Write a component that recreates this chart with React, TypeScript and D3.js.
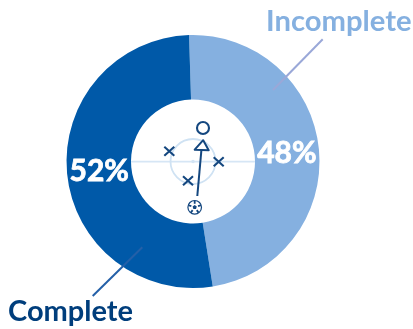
import React from "react";
import * as d3 from "d3";

const categories = ["Incomplete", "Complete"];
const values = [48, 52];
const percentLabels = ["48%", "52%"];
const sliceColors = ["#85b0e0", "#0059a8"];
const labelColors = ["#85b0e0", "#003e7c"];
const leaderColors = ["#9aa8d8", "#2460a8"];

// pitch icon positions, in px offset from the chart centre
const defenders: [number, number][] = [[-23.7, -10.2], [25.7, 0.2], [-5, 19.2]];
const receiver: [number, number] = [10, -33.5];
const passer: [number, number] = [1.7, 45.8];
const passEnd: [number, number] = [8.7, -14.8];
const passStart: [number, number] = [4.3, 34.5];

const cx = 193;
const cy = 161.5;
const outer = 126.5;
const inner = 62;
const startAngle = (-1.8 * Math.PI) / 180;
const navy = "#14477f";
const font = "Lato, 'Open Sans', sans-serif";

export default function App() {
  const pie = d3.pie<number>().sort(null).startAngle(startAngle).endAngle(startAngle + 2 * Math.PI);
  const arc = d3.arc<d3.PieArcDatum<number>>().innerRadius(inner).outerRadius(outer);
  const slices = pie(values);
  const centroids = slices.map((s) => arc.centroid(s));
  const triangle = d3.line()([[-7, 3], [7, 3.5], [1.5, -6.5]]) + "Z";
  const pent = d3.range(5).map((i) => {
    const a = (i * 2 * Math.PI) / 5 - Math.PI / 2;
    return [2.2 * Math.cos(a), 2.2 * Math.sin(a)] as [number, number];
  });
  return (
    <svg width={413} height={329} style={{ position: "fixed", left: 0, top: 0 }}>
      <g transform={`translate(${cx},${cy})`}>
        {slices.map((s, i) => (
          <path key={categories[i]} d={arc(s) ?? ""} fill={sliceColors[i]} />
        ))}
        <line x1={-inner} x2={inner} y1={0.2} y2={0.2} stroke="#d6e6f5" strokeWidth={1.8} />
        <circle r={22.5} fill="none" stroke="#cfe2f3" strokeWidth={1.8} />
        <circle r={1.8} fill="#d3e4f4" />
        {defenders.map(([x, y], i) => (
          <path key={i} transform={`translate(${x},${y})`} d="M-5-4.5L5 4.5M-5 4.5L5-4.5" stroke={navy} strokeWidth={2.1} fill="none" />
        ))}
        <circle cx={receiver[0]} cy={receiver[1]} r={6} fill="none" stroke={navy} strokeWidth={2.1} />
        <line x1={passStart[0]} y1={passStart[1]} x2={passEnd[0]} y2={passEnd[1]} stroke={navy} strokeWidth={2} />
        <path d={triangle} transform={`translate(${passEnd[0]},${passEnd[1]})`} fill="#fff" stroke={navy} strokeWidth={2} strokeLinejoin="round" />
        <g transform={`translate(${passer[0]},${passer[1]})`}>
          <circle r={6.8} fill="#fff" stroke={navy} strokeWidth={1.2} />
          <path d={d3.line()(pent) + "Z"} fill={navy} />
          {pent.map(([x, y], i) => (
            <line key={i} x1={x * 1.6} y1={y * 1.6} x2={x * 3} y2={y * 3} stroke={navy} strokeWidth={1.8} />
          ))}
        </g>
        {slices.map((s, i) => (
          <text key={i} x={centroids[i][0]} y={centroids[i][1]} dy="0.36em" textAnchor="middle" fill="#fff" stroke="#fff" strokeWidth={0.8} fontFamily={font} fontWeight={700} fontSize={30}>
            {percentLabels[i]}
          </text>
        ))}
      </g>
      <line x1={322.7} y1={39.3} x2={273} y2={90} stroke={leaderColors[0]} strokeWidth={2} />
      <line x1={92.7} y1={296} x2={142.3} y2={247.3} stroke={leaderColors[1]} strokeWidth={2} />
      <text x={266} y={31} fill={labelColors[0]} fontFamily={font} fontWeight={700} fontSize={29.2}>{categories[0]}</text>
      <text x={8} y={321} fill={labelColors[1]} fontFamily={font} fontWeight={700} fontSize={29}>{categories[1]}</text>
    </svg>
  );
}
